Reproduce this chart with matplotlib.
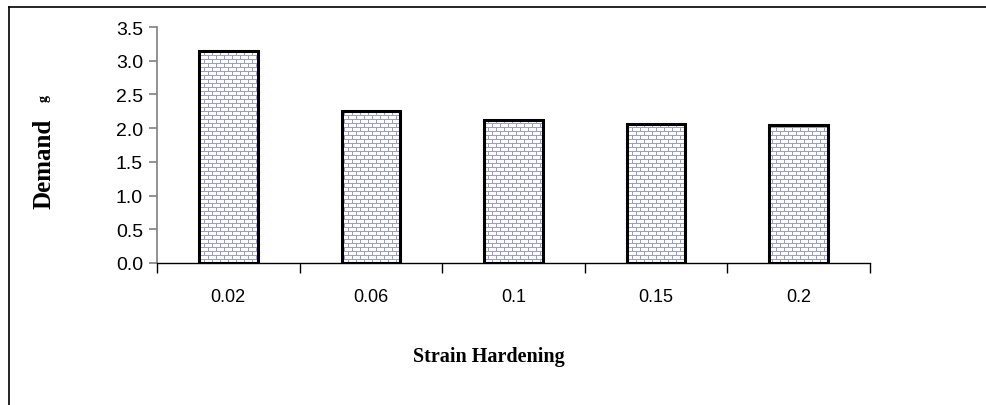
import numpy as np
from matplotlib import pyplot as plt
from matplotlib.lines import Line2D

# strain hardening ratios and the demand read for each
hardening = ['0.02', '0.06', '0.1', '0.15', '0.2']
demand = [3.14, 2.26, 2.12, 2.06, 2.04]
yticks = [0.0, 0.5, 1.0, 1.5, 2.0, 2.5, 3.0, 3.5]

W, H = 986, 406
fig = plt.figure(figsize=(W / 100, H / 100), dpi=100)
ax = fig.add_axes([157 / W, 142 / H, 713 / W, 236 / H])
ax.set_zorder(2)
ax.patch.set_visible(False)

x = np.arange(len(hardening))

# brick pattern over the whole canvas, one array pixel per screen pixel
tex = np.ones((H, W, 3))
brick = np.array([150, 150, 255]) / 255
rows = np.arange(H)
cols = np.arange(W)
tex[rows % 4 == 0, :] = brick
for r in rows:
    if r % 4 == 0:
        continue
    off = 0 if (r // 4) % 2 == 0 else 4
    tex[r, (cols + off) % 8 == 0] = brick

bars = ax.bar(x, demand, width=0.41, facecolor='none', edgecolor='black',
              linewidth=2.2, zorder=3)
ax.set_xlim(-0.5, len(hardening) - 0.5)
ax.set_ylim(0, 3.5)
for b in bars:
    im = fig.figimage(tex, xo=0, yo=0, origin='upper', zorder=1)
    im.set_clip_path(b)

# axes styling
for s in ['top', 'right']:
    ax.spines[s].set_visible(False)
ax.spines['left'].set_color('#808080')
ax.spines['left'].set_linewidth(1.2)
ax.spines['bottom'].set_color('black')
ax.spines['bottom'].set_linewidth(1.0)

ax.set_yticks(yticks)
ax.set_yticklabels(['%.1f' % v for v in yticks], fontsize=14,
                   family='Liberation Sans')
ax.tick_params(axis='y', direction='out', length=6, color='#808080', width=1.2, pad=4)

ax.set_xticks(np.arange(len(hardening) + 1) - 0.5)
ax.set_xticklabels([])
ax.tick_params(axis='x', which='major', direction='out', length=7, color='black', width=1.0)
ax.set_xticks(x, minor=True)
ax.set_xticklabels(hardening, minor=True, fontsize=13, family='Liberation Sans')
ax.tick_params(axis='x', which='minor', length=0, pad=18)

# axis titles
fig.text(489 / W, 1 - 357 / H, 'Strain Hardening', ha='center', va='center',
         fontsize=14.5, fontweight='bold', family='Liberation Serif')
fig.text(44 / W, 1 - 164 / H, 'Demand', ha='center', va='center', rotation=90,
         fontsize=18, fontweight='bold', family='Liberation Serif')
fig.text(44 / W, 1 - 99 / H, 'g', ha='center', va='center', rotation=90,
         fontsize=10, fontweight='bold', family='Liberation Serif')

# outer frame edges
fig.add_artist(Line2D([9 / W, 9 / W], [0, 1 - 8 / H], color='black', lw=1.2,
                      transform=fig.transFigure))
fig.add_artist(Line2D([9 / W, 1], [1 - 8 / H, 1 - 8 / H], color='black', lw=1.2,
                      transform=fig.transFigure))

fig.savefig('out.png', dpi=100)
